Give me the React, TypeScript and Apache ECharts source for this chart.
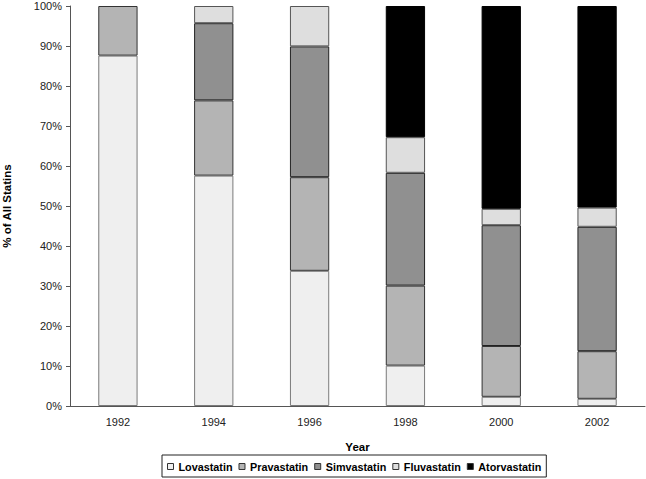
import React, { useEffect, useRef } from "react";
import * as echarts from "echarts";

const years = ["1992", "1994", "1996", "1998", "2000", "2002"];
const lovastatin = [87.6, 57.6, 33.8, 10.1, 2.3, 1.8];
const pravastatin = [12.4, 18.8, 23.4, 20.0, 12.7, 11.9];
const simvastatin = [0, 19.3, 32.7, 28.2, 30.2, 31.1];
const fluvastatin = [0, 4.3, 10.1, 8.9, 4.1, 4.8];
const atorvastatin = [0, 0, 0, 32.8, 50.7, 50.4];
const yTicks = [0, 10, 20, 30, 40, 50, 60, 70, 80, 90, 100];

const FONT = "Liberation Sans, Arial, sans-serif";

export default function App() {
  const ref = useRef<HTMLDivElement>(null);
  useEffect(() => {
    const chart = echarts.init(ref.current!, null, { renderer: "svg" });
    const mk = (name: string, data: number[], color: string, border: string) => ({
      name,
      type: "bar",
      stack: "total",
      data: data.map((v) => (v === 0 ? null : v)),
      barWidth: "41%",
      itemStyle: { color, borderColor: border, borderWidth: 1 },
    });
    chart.setOption({
      animation: false,
      textStyle: { fontFamily: FONT, color: "#000" },
      grid: { left: 70, right: 1, top: 6, bottom: 73, containLabel: false, outerBoundsMode: "none" },
      legend: {
        left: 162,
        top: 455,
        padding: [6, 5, 5, 5],
        borderColor: "#222",
        borderWidth: 1,
        icon: "rect",
        itemWidth: 6,
        itemHeight: 6,
        itemGap: 6,
        textStyle: { fontFamily: FONT, fontSize: 10.8, fontWeight: "bold", color: "#000" },
        data: ["Lovastatin", "Pravastatin", "Simvastatin", "Fluvastatin", "Atorvastatin"].map((n) => ({
          name: n,
          icon: "rect",
          itemStyle: { borderColor: "#333", borderWidth: 1 },
        })),
      },
      xAxis: {
        type: "category",
        data: years,
        name: "Year",
        nameLocation: "middle",
        nameGap: 35,
        nameMoveOverlap: false,
        nameTextStyle: { fontFamily: FONT, fontSize: 11.5, fontWeight: "bold", color: "#000", verticalAlign: "top" },
        axisLine: { lineStyle: { color: "#555", width: 1 } },
        axisTick: { alignWithLabel: false, length: 5, lineStyle: { color: "#555" } },
        axisLabel: { fontFamily: FONT, fontSize: 11, color: "#222", margin: 10 },
      },
      yAxis: {
        type: "value",
        min: yTicks[0],
        max: yTicks[yTicks.length - 1],
        interval: 10,
        name: "% of All Statins",
        nameLocation: "middle",
        nameGap: 57,
        nameMoveOverlap: false,
        nameTextStyle: { fontFamily: FONT, fontSize: 11.5, fontWeight: "bold", color: "#000" },
        axisLine: { show: true, lineStyle: { color: "#555", width: 1 } },
        axisTick: { show: true, length: 4, lineStyle: { color: "#555" } },
        splitLine: { show: false },
        axisLabel: { fontFamily: FONT, fontSize: 11, color: "#222", margin: 8, formatter: "{value}%" },
      },
      series: [
        mk("Lovastatin", lovastatin, "#efefef", "#7a7a7a"),
        mk("Pravastatin", pravastatin, "#b4b4b4", "#333"),
        mk("Simvastatin", simvastatin, "#909090", "#222"),
        mk("Fluvastatin", fluvastatin, "#dedede", "#555"),
        mk("Atorvastatin", atorvastatin, "#000000", "#000"),
      ],
    });
    return () => chart.dispose();
  }, []);
  return <div ref={ref} style={{ position: "fixed", left: 0, top: 0, width: 646, height: 479, background: "#fff" }} />;
}
